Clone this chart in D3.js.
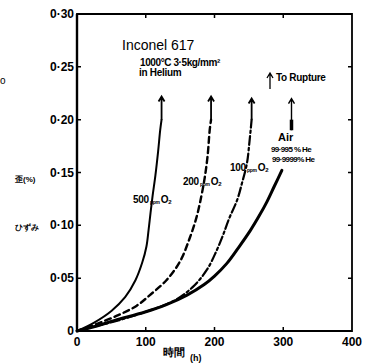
<!DOCTYPE html>
<html>
<head>
<meta charset="utf-8">
<script src="https://cdn.jsdelivr.net/npm/d3@7"></script>
<style>
  body { margin: 0; background: #fff; }
  svg { display: block; font-family: 'Liberation Sans', Arial, sans-serif; }
</style>
</head>
<body>
<svg id="chart" width="378" height="363"></svg>
<script>
// creep curves: [hours, strain]
const ppm500 = [[0,0],[25,0.008],[50,0.019],[70,0.032],[85,0.048],[95,0.065],[101,0.080],[104,0.095],[107,0.112],[110,0.128],[114,0.147],[118,0.170],[121,0.19],[123,0.20]]
const ppm200 = [[0,0],[30,0.007],[60,0.015],[87,0.024],[106,0.034],[130,0.048],[150,0.066],[164,0.088],[174,0.108],[181,0.128],[186,0.146],[190,0.166],[193,0.19],[195,0.20]]
const ppm100 = [[0,0],[30,0.005],[60,0.010],[99,0.018],[121,0.023],[145,0.030],[169,0.042],[189,0.058],[203,0.076],[212,0.090],[221,0.106],[233,0.124],[240,0.140],[247,0.158],[251,0.18],[254,0.20]]
const airHe  = [[0,0],[30,0.005],[55,0.010],[99,0.018],[130,0.025],[160,0.034],[185,0.044],[200,0.052],[218,0.064],[235,0.079],[252,0.095],[265,0.109],[276,0.122],[287,0.137],[298,0.152]]

// rupture arrows: [hours, from, to]
const ruptures = [[123,0.20,0.222],[195,0.20,0.222],[254,0.20,0.22],[312,0.19,0.22]]

const xTicks = [0, 100, 200, 300, 400]
const yTicks = [0, 0.05, 0.10, 0.15, 0.20, 0.25, 0.30]
const yTickLabels = ['0', '0·05', '0·10', '0·15', '0·20', '0·25', '0·30']

const svg = d3.select('#chart')
const margin = { top: 14, right: 26, bottom: 32, left: 77 }
const width = 378, height = 363

const x = d3.scaleLinear().domain([0, 400]).range([margin.left, width - margin.right])
const y = d3.scaleLinear().domain([0, 0.30]).range([height - margin.bottom, margin.top])

// frame as one closed path plus a heavier left edge
const box = d3.path()
box.moveTo(x(0), y(0.30))
box.lineTo(x(400), y(0.30))
box.lineTo(x(400), y(0))
box.lineTo(x(0), y(0))
box.closePath()
svg.append('path').attr('d', box.toString())
  .attr('fill', 'none').attr('stroke', '#000').attr('stroke-width', 1.8)
svg.append('path').attr('d', `M${x(0)},${y(0.30)}V${y(0)}`)
  .attr('fill', 'none').attr('stroke', '#000').attr('stroke-width', 2.4)

// inward ticks on all four sides, as one path
const tk = d3.path()
xTicks.slice(1, -1).forEach(v => {
  tk.moveTo(x(v), y(0)); tk.lineTo(x(v), y(0) - 4)
  tk.moveTo(x(v), y(0.30)); tk.lineTo(x(v), y(0.30) + 4)
})
yTicks.slice(1, -1).forEach(v => {
  tk.moveTo(x(0), y(v)); tk.lineTo(x(0) + 4, y(v))
  tk.moveTo(x(400), y(v)); tk.lineTo(x(400) - 4, y(v))
})
svg.append('path').attr('d', tk.toString())
  .attr('fill', 'none').attr('stroke', '#000').attr('stroke-width', 1.5)

// tick labels
svg.append('g').selectAll('text').data(xTicks).join('text')
  .attr('x', d => x(d)).attr('y', y(0) + 15)
  .attr('text-anchor', 'middle')
  .attr('font-size', 12).attr('font-weight', 'bold')
  .text(d => d)
svg.append('g').selectAll('text').data(yTicks).join('text')
  .attr('x', x(0) - 3).attr('y', d => y(d) + 4)
  .attr('text-anchor', 'end')
  .attr('font-size', 12).attr('font-weight', 'bold')
  .text((d, i) => yTickLabels[i])

// curves
const line = d3.line().x(d => x(d[0])).y(d => y(d[1])).curve(d3.curveCatmullRom.alpha(0.5))
const series = [
  { data: ppm500, w: 2, dash: null },
  { data: ppm200, w: 2.4, dash: '6,4' },
  { data: ppm100, w: 2.2, dash: '9,3,2.5,3' },
  { data: airHe, w: 3, dash: null }
]
svg.append('g').selectAll('path').data(series).join('path')
  .attr('d', d => line(d.data))
  .attr('fill', 'none').attr('stroke', '#000')
  .attr('stroke-width', d => d.w)
  .attr('stroke-dasharray', d => d.dash)
  .attr('stroke-linecap', 'round')

// upward arrow: shaft plus a small open head
const arrow = (g, px, top, bottom, w) => {
  g.append('path')
    .attr('d', `M${px},${bottom}V${top}M${px - 3},${top + 5}L${px},${top}L${px + 3},${top + 5}`)
    .attr('fill', 'none').attr('stroke', '#000').attr('stroke-width', w)
}
const arrows = svg.append('g')
ruptures.forEach((d, i) => arrow(arrows, x(d[0]), y(d[2]), y(d[1]), i === 3 ? 1.4 : 1.8))
svg.append('path')
  .attr('d', `M${x(312)},${y(0.19)}V${y(0.20)}`)
  .attr('stroke', '#000').attr('stroke-width', 3.5)

// annotations
svg.append('text').attr('x', 122).attr('y', 50)
  .attr('font-size', 14).text('Inconel 617')
svg.append('text').attr('x', 140).attr('y', 66)
  .attr('font-size', 10).attr('font-weight', 'bold').attr('letter-spacing', -0.4)
  .text('1000°C  3·5kg/mm²')
svg.append('text').attr('x', 139).attr('y', 76)
  .attr('font-size', 10).attr('font-weight', 'bold').attr('letter-spacing', -0.3)
  .text('in  Helium')
arrow(arrows, 270, 73, 89, 1.3)
svg.append('text').attr('x', 276).attr('y', 81)
  .attr('font-size', 10).attr('font-weight', 'bold').attr('letter-spacing', -0.3)
  .text('To Rupture')

svg.append('text').attr('x', 278).attr('y', 141)
  .attr('font-size', 11).attr('font-weight', 'bold').text('Air')
svg.append('text').attr('x', 271).attr('y', 152)
  .attr('font-size', 8).attr('font-weight', 'bold').attr('letter-spacing', -0.6)
  .text('99·995 % He')
svg.append('text').attr('x', 272).attr('y', 162)
  .attr('font-size', 8).attr('font-weight', 'bold').attr('letter-spacing', -0.6)
  .text('99·9999% He')

const ppmLabel = (px, py, n) => {
  const t = svg.append('text').attr('x', px).attr('y', py)
    .attr('font-size', 10).attr('font-weight', 'bold').attr('letter-spacing', -0.3)
  t.append('tspan').text(n)
  t.append('tspan').attr('font-size', 5).attr('dy', 1).text(' ppm ')
  t.append('tspan').attr('dy', -1).text('O')
  t.append('tspan').attr('font-size', 6).attr('dy', 1).text('2')
}
ppmLabel(133, 203, '500')
ppmLabel(183, 185, '200')
ppmLabel(230, 171, '100')

// axis titles (blurred in the scan)
svg.append('text').attr('x', 163).attr('y', 356)
  .attr('font-size', 11).attr('font-weight', 'bold').text('時間')
svg.append('text').attr('x', 190).attr('y', 361)
  .attr('font-size', 9).attr('font-weight', 'bold').text('(h)')
svg.append('text').attr('x', 15).attr('y', 182)
  .attr('font-size', 8).attr('font-weight', 'bold').text('歪(%)')
svg.append('text').attr('x', 15).attr('y', 230)
  .attr('font-size', 8).attr('font-weight', 'bold').text('ひずみ')
svg.append('text').attr('x', 0).attr('y', 84)
  .attr('font-size', 10).text('o')
</script>
</body>
</html>
